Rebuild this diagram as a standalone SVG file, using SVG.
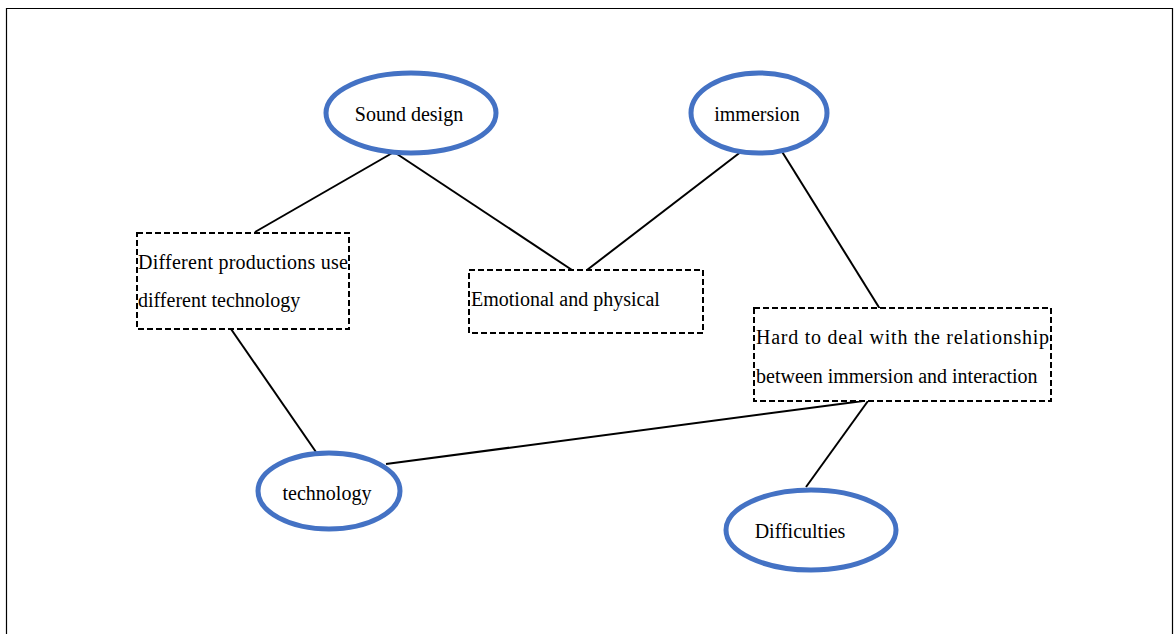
<svg xmlns="http://www.w3.org/2000/svg" width="1175" height="634" viewBox="0 0 1175 634">
<style>
.ell{fill:#fff;stroke:#4472C4;stroke-width:5}
.box{fill:#fff;stroke:#000;stroke-width:2;stroke-dasharray:6,3}
.t{font-family:"Liberation Serif","Times New Roman",serif;font-size:20px;fill:#000}
.c line{stroke:#000;stroke-width:2}
</style>
<rect width="1175" height="634" fill="#fff"/>
<path d="M6.5 640 V8.5 H1172.5 V640" fill="none" stroke="#000" stroke-width="1.2"/>
<g class="c" id="connectors">
<line x1="394" y1="152" x2="255" y2="232"/>
<line x1="394" y1="152" x2="572" y2="270"/>
<line x1="742" y1="151" x2="587" y2="270"/>
<line x1="781" y1="150" x2="880" y2="309"/>
<line x1="231" y1="329" x2="316" y2="452"/>
<line x1="386" y1="464" x2="863" y2="401"/>
<line x1="868" y1="401" x2="806" y2="487"/>
</g>
<g id="sound-design"><ellipse class="ell" cx="411" cy="113" rx="85" ry="40"/><text class="t" x="409" y="121" text-anchor="middle" font-family="Liberation Serif, serif">Sound design</text></g>
<g id="immersion"><ellipse class="ell" cx="759" cy="113" rx="68" ry="40"/><text class="t" x="757" y="121" text-anchor="middle" font-family="Liberation Serif, serif">immersion</text></g>
<g id="technology"><ellipse class="ell" cx="329" cy="491" rx="71" ry="38"/><text class="t" x="327" y="500" text-anchor="middle" font-family="Liberation Serif, serif">technology</text></g>
<g id="difficulties"><ellipse class="ell" cx="811" cy="530" rx="85" ry="40"/><text class="t" x="800" y="538" text-anchor="middle" font-family="Liberation Serif, serif">Difficulties</text></g>
<g id="box-different"><rect class="box" x="137" y="233" width="212" height="96"/>
<text class="t" x="138" y="269" textLength="210" lengthAdjust="spacing" font-family="Liberation Serif, serif">Different productions use</text>
<text class="t" x="138" y="307" font-family="Liberation Serif, serif">different technology</text></g>
<g id="box-emotional"><rect class="box" x="469" y="270" width="234" height="63"/>
<text class="t" x="471" y="306" font-family="Liberation Serif, serif">Emotional and physical</text></g>
<g id="box-hard"><rect class="box" x="754" y="308" width="297" height="93"/>
<text class="t" x="756" y="344" textLength="293" lengthAdjust="spacing" font-family="Liberation Serif, serif">Hard to deal with the relationship</text>
<text class="t" x="756" y="383" font-family="Liberation Serif, serif">between immersion and interaction</text></g>
</svg>
